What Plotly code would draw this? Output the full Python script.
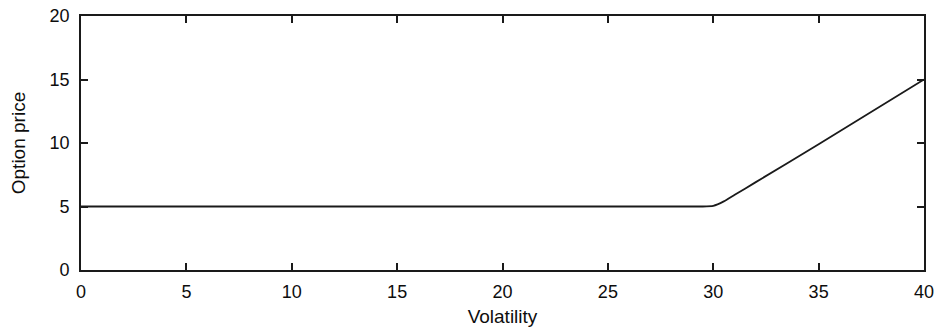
import plotly.graph_objects as go

volatility = [0, 5, 10, 15, 20, 25, 29, 29.5, 30, 30.5, 31, 32, 35, 40]
option_price = [5.0, 5.0, 5.0, 5.0, 5.0, 5.0, 5.0, 5.0, 5.05, 5.4, 5.9, 6.9, 9.9, 15.0]

x_ticks = [0, 5, 10, 15, 20, 25, 30, 35, 40]
y_ticks = [0, 5, 10, 15, 20]

FONT = "Liberation Sans, Arial, Helvetica"
TXT = "#0d0d0d"

fig = go.Figure(go.Scatter(x=volatility, y=option_price, mode="lines",
                           line=dict(color="#1a1a1a", width=1.8, shape="spline", smoothing=0.3),
                           hoverinfo="skip", cliponaxis=False))

axis_common = dict(showgrid=False, zeroline=False, showline=True, linecolor="#1a1a1a", linewidth=1.8,
                   mirror="ticks", ticks="inside", ticklen=7, tickwidth=1.5, tickcolor="#1a1a1a",
                   automargin=False,
                   tickfont=dict(family=FONT, size=18, color=TXT))

fig.update_xaxes(range=[0, 40], tickvals=x_ticks, ticklabelstandoff=4,
                 title=dict(text="Volatility", standoff=9,
                            font=dict(family=FONT, size=19, color=TXT)), **axis_common)
fig.update_yaxes(range=[0, 20], tickvals=y_ticks, ticklabelstandoff=6,
                 title=dict(text="Option price", standoff=19,
                            font=dict(family=FONT, size=19, color=TXT)), **axis_common)

fig.update_layout(width=938, height=329, plot_bgcolor="white", paper_bgcolor="white",
                  showlegend=False, margin=dict(l=81, r=14, t=16, b=59, autoexpand=False))

# remove the browser's default 8px body margin so the figure fills the window exactly
fig.write_html("out.html", config={"displayModeBar": False},
               post_script="document.body.style.margin='0';")
